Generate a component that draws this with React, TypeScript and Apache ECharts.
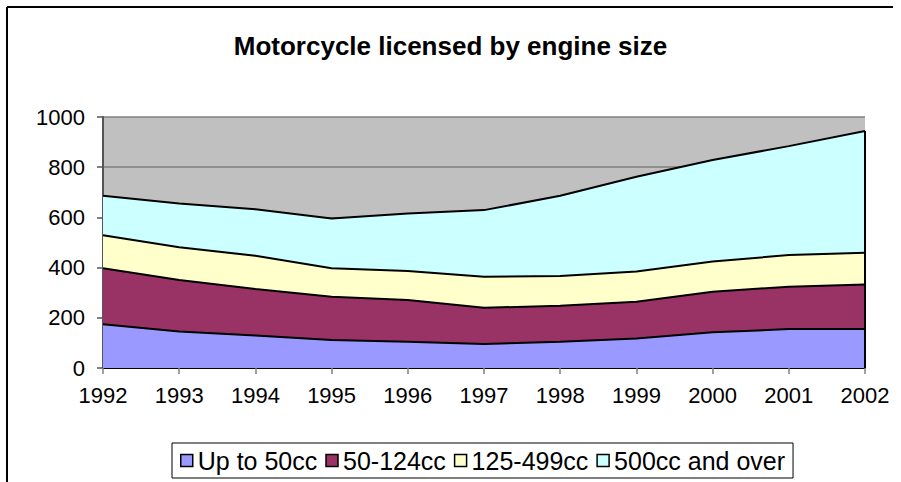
import React, { useEffect, useRef } from "react";
import * as echarts from "echarts";

const years = ["1992", "1993", "1994", "1995", "1996", "1997", "1998", "1999", "2000", "2001", "2002"];
const upTo50 = [174, 145, 129, 112, 105, 96, 105, 118, 142, 155, 155];
const cc50to124 = [223, 206, 186, 172, 166, 144, 143, 146, 162, 169, 178];
const cc125to499 = [132, 130, 132, 113, 115, 124, 119, 120, 120, 126, 126];
const cc500plus = [157, 174, 185, 199, 230, 265, 319, 378, 405, 434, 485];

const seriesNames = ["Up to 50cc", "50-124cc", "125-499cc", "500cc and over"];
const seriesColors = ["#9999FF", "#993366", "#FFFFCC", "#CCFFFF"];
const seriesData = [upTo50, cc50to124, cc125to499, cc500plus];

const FONT = "'Liberation Sans', Arial, sans-serif";

export default function App() {
  const ref = useRef<HTMLDivElement>(null);
  useEffect(() => {
    if (!ref.current) return;
    const chart = echarts.init(ref.current, null, { renderer: "svg" });
    const last = years.length - 1;
    const total = seriesData.reduce((s, arr) => s + arr[last], 0);
    chart.setOption({
      animation: false,
      backgroundColor: "#ffffff",
      textStyle: { fontFamily: FONT },
      title: {
        text: "Motorcycle licensed by engine size",
        left: "center",
        top: 28,
        textStyle: { fontFamily: FONT, fontSize: 26, fontWeight: "bold", color: "#000" },
      },
      graphic: [
        { type: "line", shape: { x1: 7, y1: 7, x2: 893, y2: 7 }, style: { stroke: "#000", lineWidth: 2 } },
        { type: "line", shape: { x1: 7, y1: 7, x2: 7, y2: 482 }, style: { stroke: "#000", lineWidth: 2 } },
      ],
      legend: {
        left: 172,
        top: 443,
        padding: [5, 8, 5, 8],
        itemGap: 8,
        itemWidth: 12,
        itemHeight: 12,
        borderColor: "#000",
        borderWidth: 1,
        icon: "rect",
        textStyle: { fontFamily: FONT, fontSize: 25, color: "#000" },
        data: seriesNames.map((n, i) => ({
          name: n,
          itemStyle: { color: seriesColors[i], borderColor: "#000", borderWidth: 1.5 },
        })),
      },
      grid: {
        left: 103,
        right: 36,
        top: 117,
        bottom: 114,
        show: true,
        backgroundColor: "#C0C0C0",
        borderWidth: 0,
        containLabel: false,
      },
      xAxis: {
        type: "category",
        data: years,
        boundaryGap: false,
        axisLine: { show: true, lineStyle: { color: "#000", width: 2 } },
        axisTick: { show: true, length: 6, lineStyle: { color: "#808080", width: 1.5 } },
        axisLabel: { color: "#000", fontSize: 22, fontFamily: FONT, margin: 16 },
        splitLine: { show: false },
      },
      yAxis: {
        type: "value",
        min: 0,
        max: 1000,
        interval: 200,
        axisLine: { show: true, lineStyle: { color: "#555", width: 2 } },
        axisTick: { show: true, length: 6, lineStyle: { color: "#555", width: 1.5 } },
        axisLabel: {
          color: "#000",
          fontSize: 22,
          fontFamily: FONT,
          margin: 18,
          formatter: (v: number) => String(v),
        },
        splitLine: { show: true, lineStyle: { color: "#808080", width: 1.5 } },
      },
      series: seriesNames.map((n, i) => ({
        name: n,
        type: "line",
        stack: "total",
        data: seriesData[i],
        showSymbol: false,
        symbol: "none",
        smooth: false,
        lineStyle: { color: "#000", width: 2 },
        itemStyle: { color: seriesColors[i] },
        areaStyle: { color: seriesColors[i], opacity: 1 },
        emphasis: { disabled: true },
        markLine:
          i === seriesNames.length - 1
            ? {
                silent: true,
                symbol: "none",
                label: { show: false },
                lineStyle: { color: "#000", width: 2, type: "solid" },
                data: [[{ coord: [years[last], 0] }, { coord: [years[last], total] }]],
              }
            : undefined,
      })),
    });
    return () => chart.dispose();
  }, []);
  return (
    <div
      ref={ref}
      style={{ position: "fixed", left: 0, top: 0, width: 901, height: 482 }}
    />
  );
}
